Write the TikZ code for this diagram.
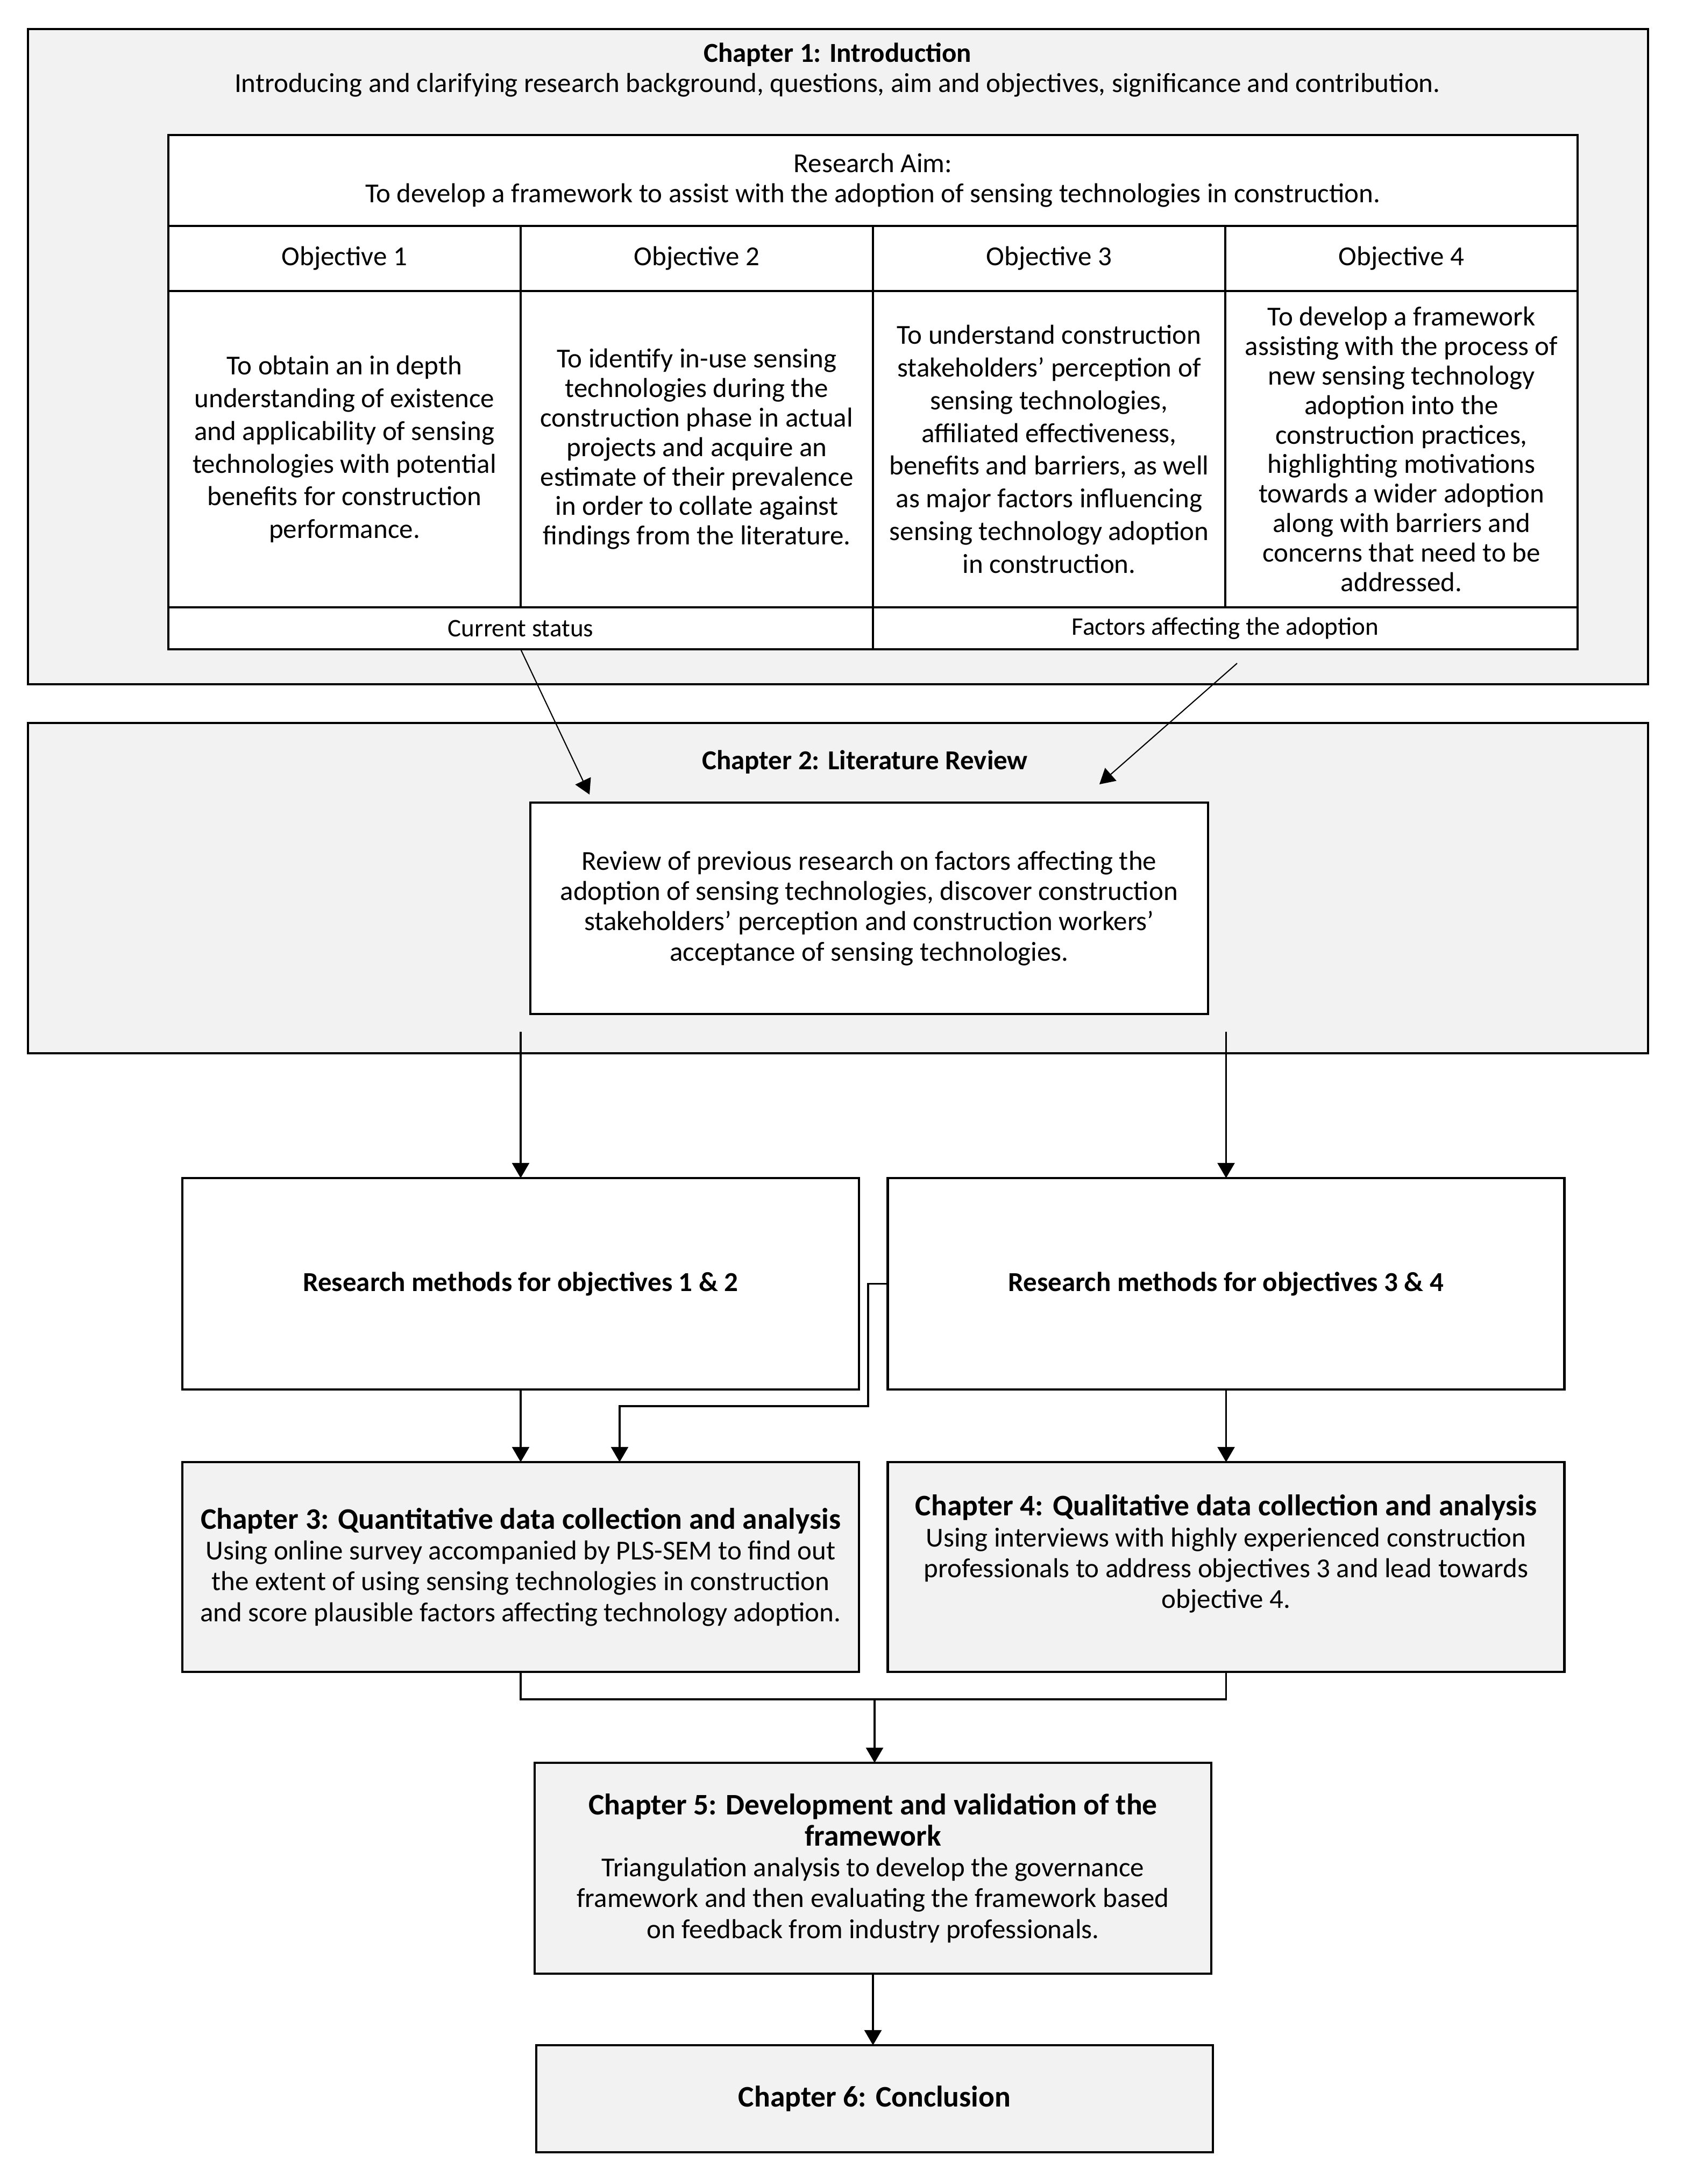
\documentclass[tikz,border=0pt]{standalone}
\usepackage{fontspec}
\setmainfont{Carlito}
\usetikzlibrary{arrows.meta,calc}
\definecolor{chapfill}{HTML}{F2F2F2}
\newcommand{\bodyfont}{\fontsize{14.5}{16}\selectfont}
\newcommand{\headfont}{\fontsize{15.8}{17}\selectfont\bfseries}

\begin{document}
\begin{tikzpicture}[
  every node/.style={font=\bodyfont,inner sep=0pt,outer sep=0pt},
  frame/.style={draw,fill=chapfill,line width=1.2pt},
  cell/.style={draw,fill=white,line width=1.2pt,align=center},
  objcell/.style={cell,minimum width=65.5mm,font=\fontsize{14.5}{17.3}\selectfont},
  chapter/.style={draw,fill=chapfill,line width=1.2pt,align=center,
    minimum width=125.8mm,font=\fontsize{14.5}{16.3}\selectfont},
  method/.style={draw,fill=white,line width=1.2pt,align=center,
    minimum width=125.8mm,minimum height=39.3mm,font=\bodyfont\bfseries},
  flow/.style={-{Triangle[length=8pt,width=9pt]},line width=1.1pt},
  hint/.style={flow,line width=.6pt}]
  \useasboundingbox (0,0) rectangle (31.29,-40.60);
  % chapter 1 and the aim/objectives table
  \node[frame,minimum width=301.2mm,minimum height=121.8mm] (ch1) at (15.58,-6.63) {};
  \node[align=center] (ch1title) at (15.57,-1.30)
    {\textbf{Chapter 1: Introduction}\\Introducing and clarifying research background, questions, aim and objectives, significance and contribution.};
  \node[cell,minimum width=262mm,minimum height=16.9mm] (aim) at (16.23,-3.355)
    {Research Aim:\\To develop a framework to assist with the adoption of sensing technologies in construction.};
  \node[objcell,minimum height=12.1mm] (head1) at (6.405,-4.805) {Objective 1};
  \node[objcell,minimum height=12.1mm] (head2) at (12.955,-4.805) {Objective 2};
  \node[objcell,minimum height=12.1mm] (head3) at (19.505,-4.805) {Objective 3};
  \node[objcell,minimum height=12.1mm] (head4) at (26.055,-4.805) {Objective 4};
  \node[objcell,minimum height=58.8mm] (obj1) at (6.405,-8.35)
    {To obtain an in depth\\understanding of existence\\and applicability of sensing\\technologies with potential\\benefits for construction\\performance.};
  \node[objcell,minimum height=58.8mm,font=\fontsize{14.5}{15.6}\selectfont] (obj2) at (12.955,-8.35)
    {To identify in-use sensing\\technologies during the\\construction phase in actual\\projects and acquire an\\estimate of their prevalence\\in order to collate against\\findings from the literature.};
  \node[objcell,minimum height=58.8mm] (obj3) at (19.505,-8.35)
    {To understand construction\\stakeholders' perception of\\sensing technologies,\\affiliated effectiveness,\\benefits and barriers, as well\\as major factors influencing\\sensing technology adoption\\in construction.};
  \node[objcell,minimum height=58.8mm,font=\fontsize{14.5}{15.6}\selectfont] (obj4) at (26.055,-8.35)
    {To develop a framework\\assisting with the process of\\new sensing technology\\adoption into the\\construction practices,\\highlighting motivations\\towards a wider adoption\\along with barriers and\\concerns that need to be\\addressed.};
  \node[cell,minimum width=131mm,minimum height=7.8mm,font=\fontsize{13.4}{15}\selectfont] (status) at (9.68,-11.68) {Current status};
  \node[cell,minimum width=131mm,minimum height=7.8mm,font=\fontsize{13.4}{15}\selectfont] (factors) at (22.78,-11.68) {Factors affecting the adoption};
  % chapter 2
  \node[frame,minimum width=301.2mm,minimum height=61.4mm] (ch2) at (15.58,-16.51) {};
  \node[font=\bodyfont\bfseries] (ch2title) at (16.08,-14.17) {Chapter 2: Literature Review};
  \node[cell,minimum width=126mm,minimum height=39.3mm] (review) at (16.16,-16.885)
    {Review of previous research on factors affecting the\\adoption of sensing technologies, discover construction\\stakeholders' perception and construction workers'\\acceptance of sensing technologies.};
  \draw[hint] (status.south) -- ($(review.north west)+(1.1,0.15)$);
  \draw[hint] ($(factors.south)+(0.22,-0.26)$) -- ($(review.north east)+(-2.02,0.34)$);
  % methods and chapters 3 to 6
  \node[method] (meth12) at (9.68,-23.865) {Research methods for objectives 1 \& 2};
  \node[method] (meth34) at (22.795,-23.865) {Research methods for objectives 3 \& 4};
  \node[chapter,minimum height=39mm] (ch3) at (9.68,-29.13)
    {{\headfont Chapter 3: Quantitative data collection and analysis}\\Using online survey accompanied by PLS-SEM to find out\\the extent of using sensing technologies in construction\\and score plausible factors affecting technology adoption.};
  \node[chapter,minimum height=39mm] (ch4) at (22.795,-29.13)
    {{\headfont Chapter 4: Qualitative data collection and analysis}\\Using interviews with highly experienced construction\\professionals to address objectives 3 and lead towards\\objective 4.\\\mbox{}};
  \node[chapter,minimum height=39.2mm] (ch5) at (16.23,-34.73)
    {{\headfont Chapter 5: Development and validation of the}\\{\headfont framework}\\Triangulation analysis to develop the governance\\framework and then evaluating the framework based\\on feedback from industry professionals.};
  \node[chapter,minimum height=19.9mm,font=\headfont] (ch6) at (16.26,-39.015) {Chapter 6: Conclusion};
  \coordinate (jog) at (16.14,-26.14);
  \coordinate (merge) at (16.26,-31.59);
  \draw[flow,shorten <=3.3mm] (meth12.north |- review.south) -- (meth12.north);
  \draw[flow,shorten <=3.3mm] (meth34.north |- review.south) -- (meth34.north);
  \draw[flow] (meth12.south) -- (ch3.north);
  \draw[flow] (meth34.south) -- (ch4.north);
  \draw[flow] (meth34.west) -| (jog) -| ($(ch3.north)+(1.84,0)$);
  \draw[line width=1.1pt] (ch3.south) |- (merge) -| (ch4.south);
  \draw[flow] (merge) -- (merge |- ch5.north);
  \draw[flow] (ch5.south) -- (ch5.south |- ch6.north);
\end{tikzpicture}
\end{document}
